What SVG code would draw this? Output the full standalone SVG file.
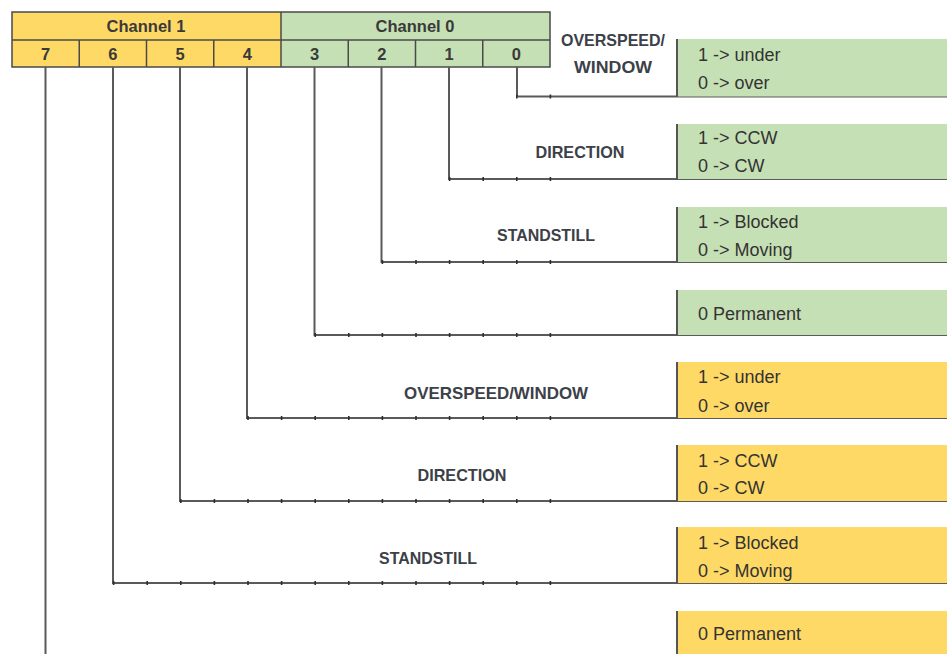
<svg xmlns="http://www.w3.org/2000/svg" width="947" height="654" viewBox="0 0 947 654">
<style>
.bg{fill:#ffffff}
.yel{fill:#ffd966}
.grn{fill:#c5e0b4}
.tb{stroke:#4a4a4a;stroke-width:1.5;fill:none}
.hdr{font-family:"Liberation Sans",Arial,sans-serif;font-weight:bold;font-size:16.5px;fill:#3a3a3a;text-anchor:middle}
.lbl{font-family:"Liberation Sans",Arial,sans-serif;font-weight:bold;font-size:16.5px;fill:#3c4048;text-anchor:middle}
.val{font-family:"Liberation Sans",Arial,sans-serif;font-size:18px;fill:#333333}
.wire{stroke:#5a5a5a;stroke-width:2;fill:none}
.tick{stroke:#2e2e2e;stroke-width:4;stroke-dasharray:1.6 32;fill:none}
.edge{stroke:#555555;stroke-width:2}
</style>
<rect class="bg" x="0" y="0" width="947" height="654"/>

<g id="register">
  <rect class="yel" x="12" y="12" width="269" height="55"/>
  <rect class="grn" x="281" y="12" width="269" height="55"/>
  <rect class="tb" x="12" y="12" width="538" height="55"/>
  <line class="tb" x1="12" y1="40" x2="550" y2="40"/>
  <line class="tb" x1="281" y1="12" x2="281" y2="67"/>
  <line class="tb" x1="79.25" y1="40" x2="79.25" y2="67"/>
  <line class="tb" x1="146.5" y1="40" x2="146.5" y2="67"/>
  <line class="tb" x1="213.75" y1="40" x2="213.75" y2="67"/>
  <line class="tb" x1="348.25" y1="40" x2="348.25" y2="67"/>
  <line class="tb" x1="415.5" y1="40" x2="415.5" y2="67"/>
  <line class="tb" x1="482.75" y1="40" x2="482.75" y2="67"/>
  <text class="hdr" x="146" y="32">Channel 1</text>
  <text class="hdr" x="415" y="32">Channel 0</text>
  <text class="hdr" x="45.6" y="60">7</text>
  <text class="hdr" x="112.9" y="60">6</text>
  <text class="hdr" x="180.1" y="60">5</text>
  <text class="hdr" x="247.4" y="60">4</text>
  <text class="hdr" x="314.6" y="60">3</text>
  <text class="hdr" x="381.9" y="60">2</text>
  <text class="hdr" x="449.1" y="60">1</text>
  <text class="hdr" x="516.4" y="60">0</text>
</g>

<g id="connectors">
  <path class="wire" d="M517 67 V96.5 H947"/>
  <path class="wire" d="M449 67 V179 H947"/>
  <path class="wire" d="M381.5 67 V262 H947"/>
  <path class="wire" d="M314.5 67 V335 H947"/>
  <path class="wire" d="M247 67 V418 H947"/>
  <path class="wire" d="M180 67 V501 H947"/>
  <path class="wire" d="M113 67 V583 H947"/>
  <path class="wire" d="M45.5 67 V654"/>
  <path class="tick" d="M516 96.5 H552"/>
  <path class="tick" d="M448.8 179 H552"/>
  <path class="tick" d="M381.6 262 H552"/>
  <path class="tick" d="M314.4 335 H552"/>
  <path class="tick" d="M247.2 418 H552"/>
  <path class="tick" d="M180 501 H552"/>
  <path class="tick" d="M112.8 583 H552"/>
</g>

<g id="bit0">
  <text class="lbl" x="613" y="46" textLength="104" lengthAdjust="spacingAndGlyphs">OVERSPEED/</text>
  <text class="lbl" x="613" y="73" textLength="78" lengthAdjust="spacingAndGlyphs">WINDOW</text>
  <rect class="grn" x="677" y="39" width="270" height="57.5"/>
  <line class="edge" x1="677" y1="39" x2="677" y2="97"/>
  <text class="val" x="698" y="61">1 -&gt; under</text>
  <text class="val" x="698" y="89">0 -&gt; over</text>
</g>

<g id="bit1">
  <text class="lbl" x="580" y="158" textLength="89" lengthAdjust="spacingAndGlyphs">DIRECTION</text>
  <rect class="grn" x="677" y="124" width="270" height="55"/>
  <line class="edge" x1="677" y1="124" x2="677" y2="180"/>
  <text class="val" x="698" y="144">1 -&gt; CCW</text>
  <text class="val" x="698" y="172">0 -&gt; CW</text>
</g>

<g id="bit2">
  <text class="lbl" x="546" y="241" textLength="98" lengthAdjust="spacingAndGlyphs">STANDSTILL</text>
  <rect class="grn" x="677" y="207" width="270" height="55"/>
  <line class="edge" x1="677" y1="207" x2="677" y2="263"/>
  <text class="val" x="698" y="228">1 -&gt; Blocked</text>
  <text class="val" x="698" y="256">0 -&gt; Moving</text>
</g>

<g id="bit3">
  <rect class="grn" x="677" y="290" width="270" height="45"/>
  <line class="edge" x1="677" y1="290" x2="677" y2="336"/>
  <text class="val" x="698" y="320">0 Permanent</text>
</g>

<g id="bit4">
  <text class="lbl" x="496" y="399" textLength="184" lengthAdjust="spacingAndGlyphs">OVERSPEED/WINDOW</text>
  <rect class="yel" x="677" y="362" width="270" height="56"/>
  <line class="edge" x1="677" y1="362" x2="677" y2="419"/>
  <text class="val" x="698" y="383">1 -&gt; under</text>
  <text class="val" x="698" y="412">0 -&gt; over</text>
</g>

<g id="bit5">
  <text class="lbl" x="462" y="481" textLength="89" lengthAdjust="spacingAndGlyphs">DIRECTION</text>
  <rect class="yel" x="677" y="445" width="270" height="56"/>
  <line class="edge" x1="677" y1="445" x2="677" y2="502"/>
  <text class="val" x="698" y="467">1 -&gt; CCW</text>
  <text class="val" x="698" y="494">0 -&gt; CW</text>
</g>

<g id="bit6">
  <text class="lbl" x="428" y="564" textLength="98" lengthAdjust="spacingAndGlyphs">STANDSTILL</text>
  <rect class="yel" x="677" y="527" width="270" height="56"/>
  <line class="edge" x1="677" y1="527" x2="677" y2="584"/>
  <text class="val" x="698" y="549">1 -&gt; Blocked</text>
  <text class="val" x="698" y="577">0 -&gt; Moving</text>
</g>

<g id="bit7">
  <rect class="yel" x="677" y="611" width="270" height="43"/>
  <line class="edge" x1="677" y1="611" x2="677" y2="654"/>
  <text class="val" x="698" y="640">0 Permanent</text>
</g>
</svg>
